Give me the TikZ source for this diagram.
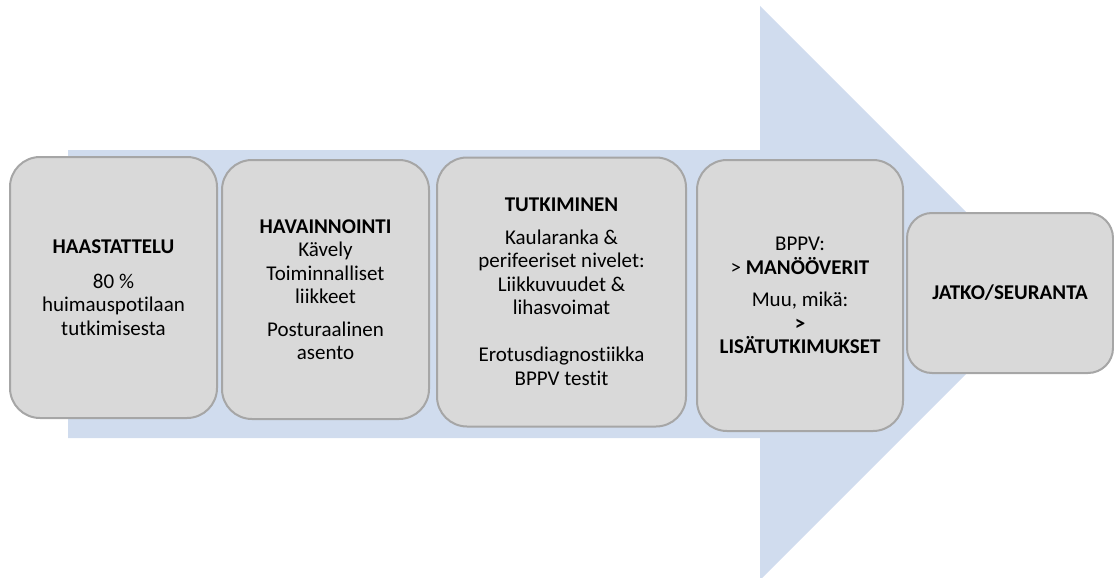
\documentclass[tikz,border=0pt]{standalone}
\usepackage{fontspec}
\setmainfont{Carlito}[Ligatures=NoCommon]
\definecolor{flowblue}{RGB}{208,220,238}
\definecolor{stagegray}{RGB}{217,217,217}
\definecolor{stageline}{RGB}{166,166,166}

\begin{document}
\begin{tikzpicture}[x=1pt, y=-1pt,
    stage/.style={draw=stageline, fill=stagegray, line width=2pt, rounded corners=30pt,
      align=center, inner sep=0pt, font=\fontsize{21}{23.5}\selectfont}]
  \useasboundingbox (0,0) rectangle (1114,578);
  \fill[flowblue] (68,150) -- (760,150) -- (760,6) -- (1047,293) -- (760,580)
    -- (760,438) -- (68,438) -- cycle;
  \node[stage, minimum width=207, minimum height=261] (haast) at (113.5,287.5)
    {\textbf{HAASTATTELU}\\[11pt] 80~\%\\ huimauspotilaan\\ tutkimisesta};
  \node[stage, minimum width=207, minimum height=259] (havain) at (325.5,289.5)
    {\textbf{HAVAINNOINTI}\\ Kävely\\ Toiminnalliset\\ liikkeet\\[9pt] Posturaalinen\\ asento};
  \node[stage, minimum width=249, minimum height=269] (tutk) at (561.5,292)
    {\textbf{TUTKIMINEN}\\[9pt] Kaularanka \&\\ perifeeriset nivelet:\\ Liikkuvuudet \&\\ lihasvoimat\\[23.5pt]
     Erotusdiagnostiikka\\ BPPV testit};
  \node[stage, minimum width=206, minimum height=271] (hoito) at (800,295.5)
    {BPPV:\\ > \textbf{MANÖÖVERIT}\\[9pt] Muu, mikä:\\ \textbf{>}\\ \textbf{LISÄTUTKIMUKSET}};
  \node[stage, rounded corners=25pt, minimum width=206, minimum height=160] (jatko) at (1010,293)
    {\textbf{JATKO/SEURANTA}};
\end{tikzpicture}
\end{document}
